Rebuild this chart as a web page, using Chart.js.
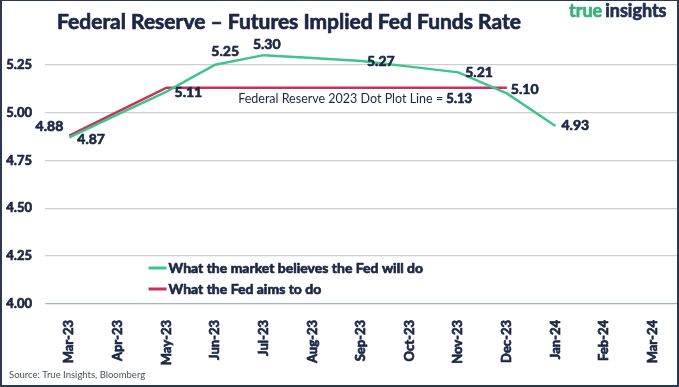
<!DOCTYPE html>
<html>
<head>
<meta charset="utf-8">
<script src="https://cdn.jsdelivr.net/npm/chart.js@4.4.1/dist/chart.umd.min.js"></script>
<style>
html,body{margin:0;padding:0;background:#fff;}
#wrap{position:relative;width:679px;height:387px;overflow:hidden;background:#fff;}
#frame{position:absolute;left:0;top:0;width:679px;height:387px;box-sizing:border-box;border:2px solid #2e3751;border-top-width:1px;pointer-events:none;}
canvas{position:absolute;left:0;top:0;}
</style>
</head>
<body>
<div id="wrap">
<canvas id="c" width="679" height="387"></canvas>
<div id="frame"></div>
</div>
<script>
// ---- data ----
const months = ['Mar-23','Apr-23','May-23','Jun-23','Jul-23','Aug-23','Sep-23','Oct-23','Nov-23','Dec-23','Jan-24','Feb-24','Mar-24'];
const marketRate = [4.87, 4.99, 5.11, 5.25, 5.30, 5.285, 5.27, 5.24, 5.21, 5.10, 4.93, null, null];
const fedAimRate = [4.88, 5.005, 5.13, 5.13, 5.13, 5.13, 5.13, 5.13, 5.13, 5.13, null, null, null];
const yTickValues = [4.00, 4.25, 4.50, 4.75, 5.00, 5.25];
const dotPlotValue = 5.13;
const marketLabelIdx = [0, 2, 3, 4, 6, 8, 9, 10];
const fedLabelIdx = [0];

// ---- style ----
const NAVY = '#1c2745';
const GREEN = '#3fc48e';
const RED = '#c8305e';
const FONT = 'Lato';
const HEAVY = 'bold';
const SW = 0.7; // extra stroke to thicken bold text
// label offsets [dx, dy, align]
const marketLabelStyle = {0:[8,2,'left'],2:[8,1,'left'],3:[10,-13,'center'],4:[3,-11,'center'],6:[6,1,'left'],8:[7,0,'left'],9:[4,-4,'left'],10:[6,0,'left']};
const fedLabelStyle = {0:[-6,-9,'right']};

Chart.defaults.font.family = FONT;

function heavyText(ctx, t, x, y, color){
  ctx.fillStyle = color; ctx.strokeStyle = color; ctx.lineWidth = SW; ctx.lineJoin = 'round';
  ctx.fillText(t, x, y); ctx.strokeText(t, x, y);
}

const overlay = {
  id:'overlay',
  afterDraw(chart){
    const ctx = chart.ctx;
    const xs = chart.scales.x, ys = chart.scales.y;
    ctx.save();
    // title
    ctx.textBaseline = 'middle';
    ctx.textAlign = 'center';
    ctx.font = `${HEAVY} 21px ${FONT}`;
    heavyText(ctx, 'Federal Reserve – Futures Implied Fed Funds Rate', 289, 22, NAVY);
    // logo
    ctx.textAlign = 'left';
    ctx.font = `bold 18px ${FONT}`;
    heavyText(ctx, 'true', 569, 11, '#37b37a');
    const tw = ctx.measureText('true').width;
    heavyText(ctx, 'insights', 569 + tw + 3, 11, '#233152');
    // source
    ctx.font = `9.5px ${FONT}`;
    ctx.fillStyle = '#4a5068';
    ctx.fillText('Source: True Insights, Bloomberg', 9, 375);
    // data labels
    ctx.font = `${HEAVY} 14px ${FONT}`;
    const m0 = chart.getDatasetMeta(0), m1 = chart.getDatasetMeta(1);
    marketLabelIdx.forEach(i=>{
      const p = m0.data[i]; const s = marketLabelStyle[i];
      ctx.textAlign = s[2];
      heavyText(ctx, marketRate[i].toFixed(2), p.x + s[0], p.y + s[1], NAVY);
    });
    fedLabelIdx.forEach(i=>{
      const p = m1.data[i]; const s = fedLabelStyle[i];
      ctx.textAlign = s[2];
      heavyText(ctx, fedAimRate[i].toFixed(2), p.x + s[0], p.y + s[1], NAVY);
    });
    // dot plot annotation
    const ay = ys.getPixelForValue(dotPlotValue) + 11;
    const ax = xs.getPixelForValue(3) + 23;
    ctx.textAlign = 'left';
    ctx.font = `12.5px ${FONT}`;
    ctx.fillStyle = NAVY;
    const t1 = 'Federal Reserve 2023 Dot Plot Line = ';
    ctx.fillText(t1, ax, ay);
    const w1 = ctx.measureText(t1).width;
    ctx.font = `${HEAVY} 13px ${FONT}`;
    heavyText(ctx, dotPlotValue.toFixed(2), ax + w1, ay, NAVY);
    // legend
    const lx = xs.getPixelForValue(2) - 18;
    const rows = [[chart.data.datasets[0].label, GREEN, 268], [chart.data.datasets[1].label, RED, 289]];
    rows.forEach(r=>{
      ctx.strokeStyle = r[1]; ctx.lineWidth = 3;
      ctx.beginPath(); ctx.moveTo(lx, r[2]); ctx.lineTo(lx + 18, r[2]); ctx.stroke();
      ctx.font = `${HEAVY} 14px ${FONT}`;
      heavyText(ctx, r[0], lx + 20, r[2], NAVY);
    });
    ctx.restore();
  }
};

new Chart(document.getElementById('c'), {
  type:'line',
  data:{
    labels: months,
    datasets:[
      {label:'What the market believes the Fed will do', data: marketRate, borderColor: GREEN, borderWidth:2.5, pointRadius:0, tension:0, spanGaps:false},
      {label:'What the Fed aims to do', data: fedAimRate, borderColor: RED, borderWidth:2.5, pointRadius:0, tension:0}
    ]
  },
  options:{
    responsive:false, animation:false,
    layout:{padding:{top:36, right:2, left:0, bottom:0}},
    plugins:{legend:{display:false}, tooltip:{enabled:false}, title:{display:false}},
    scales:{
      x:{
        offset:true,
        grid:{display:false},
        border:{display:false},
        ticks:{maxRotation:90, minRotation:90, padding:8, color:NAVY, textStrokeColor:NAVY, textStrokeWidth:SW, font:{size:13, weight:HEAVY}, autoSkip:false},
        afterFit(s){ s.height = 83; }
      },
      y:{
        min:4, max:5.4,
        afterBuildTicks(s){ s.ticks = yTickValues.map(v=>({value:v})); },
        grid:{drawTicks:false, lineWidth:1.3, color:c=> (c.tick && c.tick.value===4) ? '#a3b3c9' : '#cfcfcf'},
        border:{display:false},
        ticks:{padding:13, color:NAVY, textStrokeColor:NAVY, textStrokeWidth:SW, font:{size:13, weight:HEAVY}, callback:v=>Number(v).toFixed(2)},
        afterFit(s){ s.width = 45; }
      }
    }
  },
  plugins:[overlay]
});
</script>
</body>
</html>
